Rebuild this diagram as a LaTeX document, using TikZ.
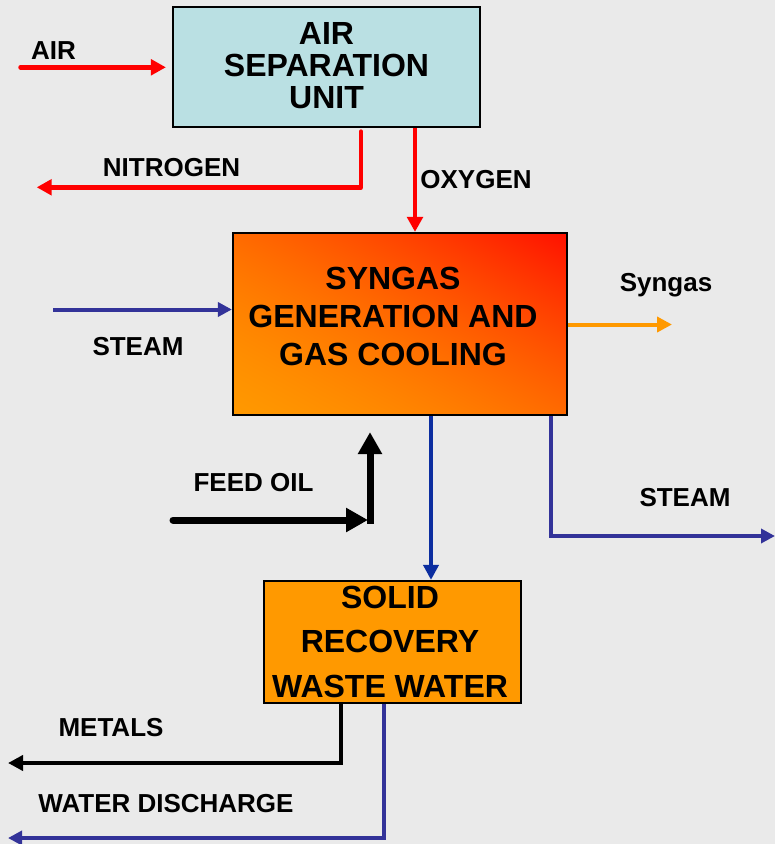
\documentclass[tikz,border=0pt]{standalone}
\usepackage{fontspec}
\setmainfont{Liberation Sans}
\usetikzlibrary{arrows.meta,calc}
\definecolor{bgc}{HTML}{EAEAEA}
\definecolor{asuc}{HTML}{BAE0E3}
\definecolor{redc}{HTML}{FF0000}
\definecolor{bluec}{HTML}{333399}
\definecolor{dbluec}{HTML}{0C2EA0}
\definecolor{orc}{HTML}{FF9900}
\pgfdeclarefunctionalshading{syngrad}{\pgfpointorigin}{\pgfpoint{100bp}{100bp}}{}{
  exch 25 sub exch 25 sub add 100 div
  dup 0 lt {pop 0} if dup 1 gt {pop 1} if
  dup dup mul 86 mul exch 51 mul add 153 exch sub 255 div
  1 exch 0
}
\begin{document}
\begin{tikzpicture}[x=1pt,y=-1pt,
  box/.style={draw=black, line width=2.2pt, inner sep=0pt},
  boxtext/.style={align=center, inner sep=0pt},
  lbl/.style={font=\fontsize{26}{30}\selectfont\bfseries, inner sep=0pt},
  redline/.style={draw=redc, line width=4.5pt, line cap=round, line join=round, -{Triangle[length=15pt,width=15.5pt]}},
  blueline/.style={draw=bluec, line width=4pt, line join=miter, -{Triangle[length=14pt,width=14pt]}},
  dblueline/.style={draw=dbluec, line width=4.5pt, -{Triangle[length=15pt,width=15pt]}},
  orline/.style={draw=orc, line width=4pt, -{Triangle[length=15pt,width=15pt]}},
  blackline/.style={draw=black, line width=4.5pt, line join=miter, -{Triangle[length=15pt,width=15pt]}},
  feedline/.style={draw=black, line width=7pt, line cap=round, -{Triangle[length=22pt,width=23pt]}},
]
\fill[bgc] (0,0) rectangle (775,844);
\useasboundingbox (0,0) rectangle (775,844);

% boxes
\node[box, fill=asuc, minimum width=307pt, minimum height=120pt] (asu) at (326.5,67) {};
\node[boxtext, font=\fontsize{32}{32}\selectfont\bfseries] (asut) at (326.5,66) {AIR\\SEPARATION\\UNIT};

\node[box, shade, shading=syngrad,
      minimum width=334pt, minimum height=182pt] (syn) at (400,324) {};
\node[boxtext, font=\fontsize{32}{38}\selectfont\bfseries] (synt) at (393,316) {SYNGAS\\GENERATION AND\\GAS COOLING};

\node[box, fill=orc, minimum width=257pt, minimum height=122pt] (sol) at (392.5,642) {};
\node[boxtext, font=\fontsize{32}{44.5}\selectfont\bfseries] (solt) at (390,641.5) {SOLID\\RECOVERY\\WASTE WATER};

% coordinates
\coordinate (airS) at (20.5,67.3);
\coordinate (nitC) at (361,187.3);
\coordinate (nitE) at (36.7,187.3);
\coordinate (oxX) at (415,0);
\coordinate (stL) at (53,309.5);
\coordinate (sgE) at (672,324.5);
\coordinate (fS) at (173,520);
\coordinate (fC) at (370,520);
\coordinate (cX) at (431,0);
\coordinate (rsC) at (551,536);
\coordinate (rsE) at (775,536);
\coordinate (mC) at (341,763);
\coordinate (mE) at (8,763);
\coordinate (wC) at (384,838);
\coordinate (wE) at (8,838);

% connectors
\draw[redline, shorten >=6pt] (airS) -- (airS -| asu.west);
\draw[redline, shorten <=3.5pt] (asu.south -| nitC) -- (nitC) -- (nitE);
\draw[redline, line cap=butt] (asu.south -| oxX) -- (syn.north -| oxX);
\draw[blueline] (stL) -- (stL -| syn.west);
\draw[orline] (sgE -| syn.east) -- (sgE);
\draw[feedline, shorten >=2pt] (fS) -- (fC);
\draw[feedline, line cap=butt, shorten >=16pt] ($(fC)+(0,3.5)$) -- (fC |- syn.south);
\draw[dblueline] (syn.south -| cX) -- (sol.north -| cX);
\draw[blueline] (syn.south -| rsC) -- (rsC) -- (rsE);
\draw[blackline] (sol.south -| mC) -- (mC) -- (mE);
\draw[blueline] (sol.south -| wC) -- (wC) -- (wE);

% labels
\node[lbl] (lair) at (53.5,50.5) {AIR};
\node[lbl] (lnit) at (171.5,167.5) {NITROGEN};
\node[lbl] (loxy) at (476,180) {OXYGEN};
\node[lbl] (lst1) at (138,346.5) {STEAM};
\node[lbl] (lsyn) at (666,285) {Syngas};
\node[lbl] (lfeed) at (253.5,482.5) {FEED OIL};
\node[lbl] (lst2) at (685,497.5) {STEAM};
\node[lbl] (lmet) at (111,728) {METALS};
\node[lbl] (lwat) at (166,804) {WATER DISCHARGE};
\end{tikzpicture}
\end{document}
